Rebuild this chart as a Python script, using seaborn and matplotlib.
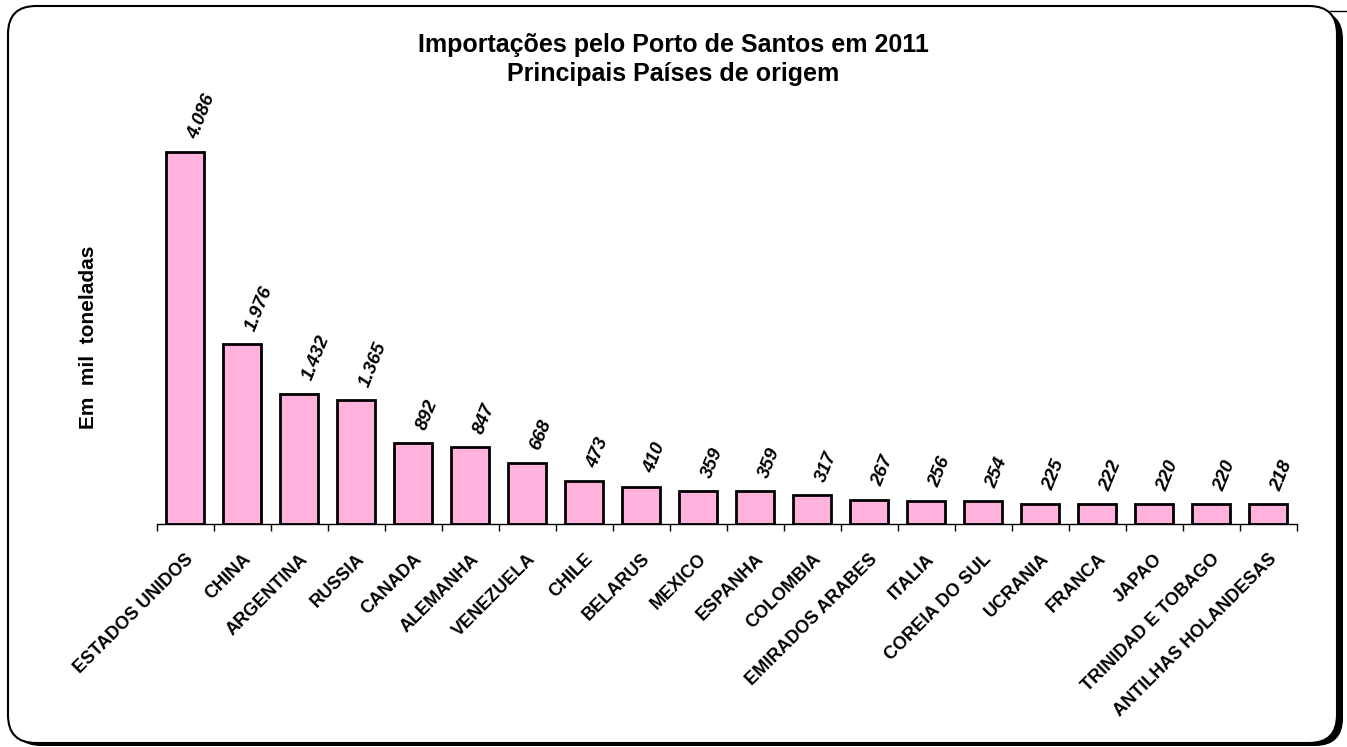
import matplotlib
matplotlib.use("Agg")
import matplotlib.pyplot as plt
import seaborn as sns
import pandas as pd
from matplotlib.patches import FancyBboxPatch
from matplotlib.ticker import FixedLocator

countries = ["ESTADOS UNIDOS", "CHINA", "ARGENTINA", "RUSSIA", "CANADA", "ALEMANHA",
             "VENEZUELA", "CHILE", "BELARUS", "MEXICO", "ESPANHA", "COLOMBIA",
             "EMIRADOS ARABES", "ITALIA", "COREIA DO SUL", "UCRANIA", "FRANCA",
             "JAPAO", "TRINIDAD E TOBAGO", "ANTILHAS HOLANDESAS"]
values = [4086, 1976, 1432, 1365, 892, 847, 668, 473, 410, 359, 359, 317,
          267, 256, 254, 225, 222, 220, 220, 218]
title_lines = ["Importações pelo Porto de Santos em 2011", "Principais Países de origem"]
ylabel = "Em  mil  toneladas"

sns.set_style("white")
plt.rcParams['font.family'] = ['Liberation Sans', 'DejaVu Sans']
plt.rcParams['text.color'] = 'black'
plt.rcParams['xtick.color'] = 'black'
plt.rcParams['xtick.labelcolor'] = 'black'

W, H, DPI = 1347, 747, 100
fig = plt.figure(figsize=(W / DPI, H / DPI), dpi=DPI, facecolor="white")

# rounded frame with shadow (pixel -> inch coords)
tr = fig.dpi_scale_trans
def px(x): return x / DPI
shadow = FancyBboxPatch((px(13), px(1)), px(1330), px(735),
                        boxstyle=f"round,pad=0,rounding_size={px(28)}",
                        transform=tr, facecolor="black", edgecolor="black",
                        lw=0, zorder=-3)
frame = FancyBboxPatch((px(8), px(4)), px(1329), px(737),
                       boxstyle=f"round,pad=0,rounding_size={px(28)}",
                       transform=tr, facecolor="white", edgecolor="black",
                       lw=1.5, zorder=-2)
fig.patches.extend([shadow, frame])
fig.add_artist(plt.Line2D([px(1330), px(1347)], [px(H - 11), px(H - 11)],
                          transform=tr, color="black", lw=1))

left, right = 156.5, 1296.5
bottom = 524
ymax = 4500
scale = 372 / 4086
top = bottom - ymax * scale
ax = fig.add_axes([left / W, (H - bottom) / H, (right - left) / W, (bottom - top) / H])
ax.set_facecolor("none")

df = pd.DataFrame({"country": countries, "value": values})
sns.barplot(data=df, x="country", y="value", color="#FFB3DC", saturation=1,
            width=0.66, edgecolor="black", linewidth=2.0, ax=ax)

ax.set_xlim(-0.5, len(countries) - 0.5)
ax.set_ylim(0, ymax)
for s in ["left", "top", "right"]:
    ax.spines[s].set_visible(False)
ax.spines["bottom"].set_color("black")
ax.spines["bottom"].set_linewidth(1.0)
ax.set_yticks([])
ax.set_xlabel("")
ax.set_ylabel("")

ax.xaxis.set_minor_locator(FixedLocator([i - 0.5 for i in range(len(countries) + 1)]))
ax.tick_params(axis="x", which="minor", length=5, width=1, color="black", direction="out", bottom=True)
ax.tick_params(axis="x", which="major", length=0, pad=19)
ax.set_xticks(range(len(countries)))
ax.set_xticklabels(countries, rotation=45, ha="right", rotation_mode="anchor",
                   fontsize=13, fontweight="bold")

for i, v in enumerate(values):
    ax.annotate(f"{v:,}".replace(",", "."), (i, v), xytext=(6, 10), textcoords="offset points",
                rotation=68, rotation_mode="anchor", ha="left", va="center",
                fontsize=13.5, fontweight="bold", fontstyle="italic")

fig.text(0.5, (H - 52) / H, title_lines[0], ha="center", va="baseline",
         fontsize=18, fontweight="bold")
fig.text(0.5, (H - 81) / H, title_lines[1], ha="center", va="baseline",
         fontsize=18, fontweight="bold")
fig.text(88 / W, (H - 337) / H, ylabel, rotation=90, ha="center", va="center",
         fontsize=15, fontweight="bold")

fig.savefig("out.png", dpi=DPI, facecolor="white")
